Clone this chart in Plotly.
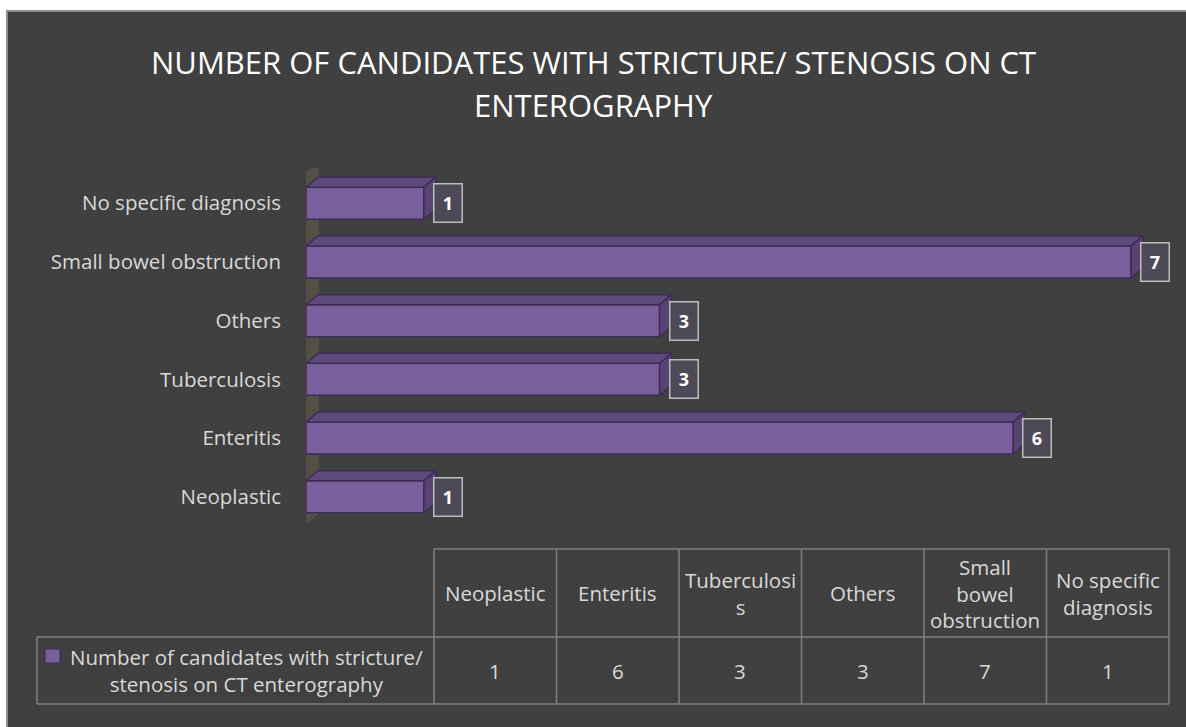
import plotly.graph_objects as go

# Data
categories = ["Neoplastic", "Enteritis", "Tuberculosis", "Others",
              "Small bowel obstruction", "No specific diagnosis"]
values = [1, 6, 3, 3, 7, 1]
table_headers = ["Neoplastic", "Enteritis", "Tuberculosi<br>s", "Others",
                 "Small<br>bowel<br>obstruction", "No specific<br>diagnosis"]
series_name = "Number of candidates with stricture/<br>stenosis on CT enterography"
title_lines = ["NUMBER OF CANDIDATES WITH STRICTURE/ STENOSIS ON CT", "ENTEROGRAPHY"]

# Page geometry (pixels)
W, H = 1186, 727
L, R, T, B = 306, 16, 168, 195
PW, PH = W - L - R, H - T - B
X_RANGE = [0, 7.33]
Y_RANGE = [-0.6, 5.6]

BG = "#404040"
FRONT = "#7a5f9d"
TOP = "#5e4a7d"
SIDE = "#574473"
EDGE = "#3e2c57"
TEXT = "#d9d9d9"
GRID = "#7f7f7f"
FONT = "Open Sans"
TXT_SIZE = 20.5

# 3-D extrusion depth in data units
ux = PW / (X_RANGE[1] - X_RANGE[0])
uy = PH / (Y_RANGE[1] - Y_RANGE[0])
DX, DY = 12 / ux, 10 / uy
BAR_W = 0.545


def px_x(p):
    return (p - L) / PW


def px_y(p):
    return (H - B - p) / PH


fig = go.Figure()

ypos = list(range(len(categories)))

# Front faces
fig.add_trace(go.Bar(x=values, y=ypos, orientation="h", width=BAR_W,
                     marker=dict(color=FRONT, line=dict(color=EDGE, width=1.5)),
                     showlegend=False, hoverinfo="x+y"))

# Top and side faces
top_x, top_y, side_x, side_y = [], [], [], []
for v, y in zip(values, ypos):
    yt, yb = y + BAR_W / 2, y - BAR_W / 2
    top_x += [0, v, v + DX, DX, 0, None]
    top_y += [yt, yt, yt + DY, yt + DY, yt, None]
    side_x += [v, v + DX, v + DX, v, v, None]
    side_y += [yb, yb + DY, yt + DY, yt, yb, None]
fig.add_trace(go.Scatter(x=top_x, y=top_y, fill="toself", mode="lines",
                         line=dict(color=EDGE, width=1.5), fillcolor=TOP,
                         hoverinfo="skip", showlegend=False))
fig.add_trace(go.Scatter(x=side_x, y=side_y, fill="toself", mode="lines",
                         line=dict(color=EDGE, width=1.5), fillcolor=SIDE,
                         hoverinfo="skip", showlegend=False))

annotations = []

# Value labels in boxes
for v, y in zip(values, ypos):
    annotations.append(dict(x=v, y=y, xref="x", yref="y", text=f"<b>{v}</b>",
                            showarrow=False, xanchor="left", yanchor="middle",
                            xshift=9, font=dict(color="white", size=18, family=FONT),
                            bgcolor="#4d4956", bordercolor="#bdbdbd", borderwidth=1.5,
                            width=25, height=35))

# Title
title_y = [62, 105]
for line, ty in zip(title_lines, title_y):
    annotations.append(dict(x=px_x(593), y=px_y(ty), xref="paper", yref="paper",
                            text=line, showarrow=False, xanchor="center", yanchor="middle",
                            font=dict(color="white", size=31, family=FONT)))

shapes = []
# Chart frame
shapes.append(dict(type="rect", xref="paper", yref="paper", layer="below",
                   x0=px_x(7), x1=px_x(1192), y0=px_y(740), y1=px_y(11),
                   fillcolor=BG, line=dict(color="#8c8c8c", width=2)))

# Side wall of the 3-D plot area, behind the bars
wx0, wx1 = -3 / ux, 13 / ux
wall_path = (f"M {wx0},-0.5 L {wx0},5.5 L {wx1},{5.5 + DY} "
             f"L {wx1},{-0.5 + DY * 1.2} Z")
shapes.append(dict(type="path", xref="x", yref="y", layer="below", path=wall_path,
                   fillcolor="#524f47", line=dict(width=0)))

# Data table below the chart
TBL_L, TBL_SPLIT, TBL_R = 37, 434, 1169
ROW_TOP, ROW_MID, ROW_BOT = 549, 637, 704
ncol = len(categories)
colw = (TBL_R - TBL_SPLIT) / ncol
col_edges = [TBL_SPLIT + i * colw for i in range(ncol + 1)]

line_style = dict(color=GRID, width=1.5)
shapes.append(dict(type="line", xref="paper", yref="paper", x0=px_x(TBL_SPLIT), x1=px_x(TBL_R),
                   y0=px_y(ROW_TOP), y1=px_y(ROW_TOP), line=line_style))
shapes.append(dict(type="line", xref="paper", yref="paper", x0=px_x(TBL_L), x1=px_x(TBL_R),
                   y0=px_y(ROW_MID), y1=px_y(ROW_MID), line=line_style))
shapes.append(dict(type="line", xref="paper", yref="paper", x0=px_x(TBL_L), x1=px_x(TBL_R),
                   y0=px_y(ROW_BOT), y1=px_y(ROW_BOT), line=line_style))
shapes.append(dict(type="line", xref="paper", yref="paper", x0=px_x(TBL_L), x1=px_x(TBL_L),
                   y0=px_y(ROW_MID), y1=px_y(ROW_BOT), line=line_style))
for xe in col_edges:
    shapes.append(dict(type="line", xref="paper", yref="paper", x0=px_x(xe), x1=px_x(xe),
                       y0=px_y(ROW_TOP), y1=px_y(ROW_BOT), line=line_style))

for i, (hdr, v) in enumerate(zip(table_headers, values)):
    cx = (col_edges[i] + col_edges[i + 1]) / 2
    annotations.append(dict(x=px_x(cx), y=px_y((ROW_TOP + ROW_MID) / 2), xref="paper", yref="paper",
                            text=hdr, showarrow=False, xanchor="center", yanchor="middle",
                            font=dict(color=TEXT, size=TXT_SIZE, family=FONT)))
    annotations.append(dict(x=px_x(cx), y=px_y((ROW_MID + ROW_BOT) / 2), xref="paper", yref="paper",
                            text=str(v), showarrow=False, xanchor="center", yanchor="middle",
                            font=dict(color=TEXT, size=TXT_SIZE, family=FONT)))

# Series key in the table
shapes.append(dict(type="rect", xref="paper", yref="paper",
                   x0=px_x(45), x1=px_x(60), y0=px_y(663), y1=px_y(649),
                   fillcolor=FRONT, line=dict(color=EDGE, width=1)))
annotations.append(dict(x=px_x(246), y=px_y(670.5), xref="paper", yref="paper",
                        text=series_name, showarrow=False, xanchor="center", yanchor="middle",
                        font=dict(color=TEXT, size=TXT_SIZE, family=FONT)))

fig.update_layout(
    width=W, height=H,
    margin=dict(l=L, r=R, t=T, b=B),
    paper_bgcolor="white",
    plot_bgcolor="rgba(0,0,0,0)",
    bargap=0.4,
    xaxis=dict(range=X_RANGE, visible=False, fixedrange=True),
    yaxis=dict(range=Y_RANGE, tickvals=ypos, ticktext=categories,
               showgrid=False, zeroline=False, showline=False, ticks="",
               ticklabelstandoff=24,
               tickfont=dict(color=TEXT, size=TXT_SIZE, family=FONT), fixedrange=True),
    annotations=annotations,
    shapes=shapes,
    showlegend=False,
)

fig.write_html("out.html")
